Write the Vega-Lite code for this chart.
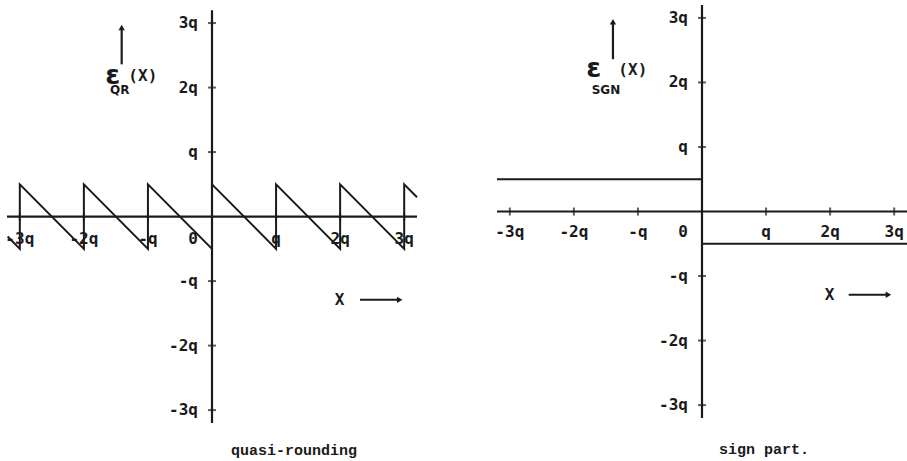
{
  "$schema": "https://vega.github.io/schema/vega-lite/v6.json",
  "padding": {"left": 3, "top": 3, "right": 0, "bottom": 0},
  "background": "white",
  "config": {
    "view": {"stroke": null},
    "concat": {"spacing": 80},
    "text": {"font": "DejaVu Sans Mono", "fontWeight": "bold", "fontSize": 16, "color": "#1a1a1a"},
    "rule": {"color": "#1a1a1a", "strokeWidth": 2.2},
    "line": {"color": "#1a1a1a", "strokeWidth": 2},
    "tick": {"color": "#1a1a1a", "thickness": 2}
  },
  "datasets": {
    "quasiRounding": [
      {"i": 0, "x": -3.19, "e": -0.31},
      {"i": 1, "x": -3, "e": -0.5},
      {"i": 2, "x": -3, "e": 0.5},
      {"i": 3, "x": -2, "e": -0.5},
      {"i": 4, "x": -2, "e": 0.5},
      {"i": 5, "x": -1, "e": -0.5},
      {"i": 6, "x": -1, "e": 0.5},
      {"i": 7, "x": 0, "e": -0.5},
      {"i": 8, "x": 0, "e": 0.5},
      {"i": 9, "x": 1, "e": -0.5},
      {"i": 10, "x": 1, "e": 0.5},
      {"i": 11, "x": 2, "e": -0.5},
      {"i": 12, "x": 2, "e": 0.5},
      {"i": 13, "x": 3, "e": -0.5},
      {"i": 14, "x": 3, "e": 0.5},
      {"i": 15, "x": 3.2, "e": 0.3}
    ],
    "signPart": [
      {"i": 0, "x": -3.2, "e": 0.5},
      {"i": 1, "x": 0, "e": 0.5},
      {"i": 2, "x": 0, "e": -0.5},
      {"i": 3, "x": 3.2, "e": -0.5}
    ],
    "ticks": [
      {"v": -3, "label": "-3q"},
      {"v": -2, "label": "-2q"},
      {"v": -1, "label": "-q"},
      {"v": 0, "label": "0"},
      {"v": 1, "label": "q"},
      {"v": 2, "label": "2q"},
      {"v": 3, "label": "3q"}
    ],
    "single": [{}]
  },
  "bounds": "flush",
  "hconcat": [
    {
      "width": 410,
      "height": 418,
      "title": {"text": "quasi-rounding", "orient": "bottom", "anchor": "middle", "dx": 82, "offset": 31, "baseline": "alphabetic", "font": "Liberation Mono", "fontSize": 15, "fontWeight": "bold", "color": "#1a1a1a"},
      "layer": [
        {"data": {"name": "single"}, "mark": "rule", "encoding": {
          "x": {"datum": -3.2, "type": "quantitative", "scale": {"domain": [-3.2, 3.2], "nice": false, "zero": false}, "axis": null},
          "x2": {"datum": 3.2},
          "y": {"datum": 0, "type": "quantitative", "scale": {"domain": [-3.2, 3.28], "nice": false, "zero": false}, "axis": null}}},
        {"data": {"name": "single"}, "mark": "rule", "encoding": {
          "x": {"datum": 0, "type": "quantitative", "scale": {"domain": [-3.2, 3.2], "nice": false, "zero": false}, "axis": null},
          "y": {"datum": -3.2, "type": "quantitative", "scale": {"domain": [-3.2, 3.28], "nice": false, "zero": false}, "axis": null},
          "y2": {"datum": 3.2}}},
        {"data": {"name": "ticks"}, "transform": [{"filter": "datum.v != 0"}],
          "mark": {"type": "tick", "orient": "vertical", "size": 8},
          "encoding": {
            "x": {"field": "v", "type": "quantitative", "scale": {"domain": [-3.2, 3.2], "nice": false, "zero": false}, "axis": null},
            "y": {"datum": 0, "type": "quantitative", "scale": {"domain": [-3.2, 3.28], "nice": false, "zero": false}, "axis": null}}},
        {"data": {"name": "ticks"}, "transform": [{"filter": "datum.v != 0"}],
          "mark": {"type": "tick", "orient": "horizontal", "size": 8},
          "encoding": {
            "y": {"field": "v", "type": "quantitative", "scale": {"domain": [-3.2, 3.28], "nice": false, "zero": false}, "axis": null},
            "x": {"datum": 0, "type": "quantitative", "scale": {"domain": [-3.2, 3.2], "nice": false, "zero": false}, "axis": null}}},
        {"data": {"name": "ticks"}, "transform": [{"filter": "datum.v != 0"}],
          "mark": {"type": "text", "align": "center", "baseline": "middle", "dy": 22},
          "encoding": {
            "x": {"field": "v", "type": "quantitative", "scale": {"domain": [-3.2, 3.2], "nice": false, "zero": false}, "axis": null},
            "y": {"datum": 0, "type": "quantitative", "scale": {"domain": [-3.2, 3.28], "nice": false, "zero": false}, "axis": null},
            "text": {"field": "label"}}},
        {"data": {"name": "ticks"}, "transform": [{"filter": "datum.v == 0"}],
          "mark": {"type": "text", "align": "center", "baseline": "middle", "dx": -19, "dy": 22},
          "encoding": {
            "x": {"field": "v", "type": "quantitative", "scale": {"domain": [-3.2, 3.2], "nice": false, "zero": false}, "axis": null},
            "y": {"datum": 0, "type": "quantitative", "scale": {"domain": [-3.2, 3.28], "nice": false, "zero": false}, "axis": null},
            "text": {"field": "label"}}},
        {"data": {"name": "ticks"}, "transform": [{"filter": "datum.v != 0"}],
          "mark": {"type": "text", "align": "right", "baseline": "middle", "dx": -14},
          "encoding": {
            "y": {"field": "v", "type": "quantitative", "scale": {"domain": [-3.2, 3.28], "nice": false, "zero": false}, "axis": null},
            "x": {"datum": 0, "type": "quantitative", "scale": {"domain": [-3.2, 3.2], "nice": false, "zero": false}, "axis": null},
            "text": {"field": "label"}}},
        {"data": {"name": "quasiRounding"}, "mark": "line",
          "encoding": {
            "x": {"field": "x", "type": "quantitative", "scale": {"domain": [-3.2, 3.2], "nice": false, "zero": false}, "axis": null},
            "y": {"field": "e", "type": "quantitative", "scale": {"domain": [-3.2, 3.28], "nice": false, "zero": false}, "axis": null},
            "order": {"field": "i", "type": "quantitative"}}},
        {"data": {"name": "single"}, "mark": "rule", "encoding": {
          "x": {"datum": -1.41, "type": "quantitative", "scale": {"domain": [-3.2, 3.2], "nice": false, "zero": false}, "axis": null},
          "y": {"datum": 2.36, "type": "quantitative", "scale": {"domain": [-3.2, 3.28], "nice": false, "zero": false}, "axis": null},
          "y2": {"datum": 2.93}}},
        {"data": {"name": "single"}, "mark": {"type": "point", "shape": "triangle-up", "filled": true, "size": 40, "color": "#1a1a1a", "opacity": 1},
          "encoding": {
            "x": {"datum": -1.41, "type": "quantitative", "scale": {"domain": [-3.2, 3.2], "nice": false, "zero": false}, "axis": null},
            "y": {"datum": 2.93, "type": "quantitative", "scale": {"domain": [-3.2, 3.28], "nice": false, "zero": false}, "axis": null}}},
        {"data": {"name": "single"}, "mark": {"type": "text", "fontSize": 27, "fontWeight": "bold", "font": "DejaVu Sans", "align": "center", "baseline": "alphabetic", "text": "ε"},
          "encoding": {
            "x": {"datum": -1.55, "type": "quantitative", "scale": {"domain": [-3.2, 3.2], "nice": false, "zero": false}, "axis": null},
            "y": {"datum": 2.05, "type": "quantitative", "scale": {"domain": [-3.2, 3.28], "nice": false, "zero": false}, "axis": null}}},
        {"data": {"name": "single"}, "mark": {"type": "text", "fontSize": 16, "align": "center", "baseline": "middle", "text": "(X)"},
          "encoding": {
            "x": {"datum": -1.08, "type": "quantitative", "scale": {"domain": [-3.2, 3.2], "nice": false, "zero": false}, "axis": null},
            "y": {"datum": 2.18, "type": "quantitative", "scale": {"domain": [-3.2, 3.28], "nice": false, "zero": false}, "axis": null}}},
        {"data": {"name": "single"}, "mark": {"type": "text", "fontSize": 12, "font": "DejaVu Sans", "align": "center", "baseline": "middle", "text": "QR"},
          "encoding": {
            "x": {"datum": -1.44, "type": "quantitative", "scale": {"domain": [-3.2, 3.2], "nice": false, "zero": false}, "axis": null},
            "y": {"datum": 1.97, "type": "quantitative", "scale": {"domain": [-3.2, 3.28], "nice": false, "zero": false}, "axis": null}}},
        {"data": {"name": "single"}, "mark": {"type": "text", "fontSize": 16, "align": "center", "baseline": "middle", "text": "X"},
          "encoding": {
            "x": {"datum": 1.99, "type": "quantitative", "scale": {"domain": [-3.2, 3.2], "nice": false, "zero": false}, "axis": null},
            "y": {"datum": -1.29, "type": "quantitative", "scale": {"domain": [-3.2, 3.28], "nice": false, "zero": false}, "axis": null}}},
        {"data": {"name": "single"}, "mark": {"type": "rule", "strokeWidth": 2},
          "encoding": {
            "x": {"datum": 2.31, "type": "quantitative", "scale": {"domain": [-3.2, 3.2], "nice": false, "zero": false}, "axis": null},
            "x2": {"datum": 2.93},
            "y": {"datum": -1.29, "type": "quantitative", "scale": {"domain": [-3.2, 3.28], "nice": false, "zero": false}, "axis": null}}},
        {"data": {"name": "single"}, "mark": {"type": "point", "shape": "triangle-right", "filled": true, "size": 40, "color": "#1a1a1a", "opacity": 1},
          "encoding": {
            "x": {"datum": 2.93, "type": "quantitative", "scale": {"domain": [-3.2, 3.2], "nice": false, "zero": false}, "axis": null},
            "y": {"datum": -1.29, "type": "quantitative", "scale": {"domain": [-3.2, 3.28], "nice": false, "zero": false}, "axis": null}}}
      ]
    },
    {
      "width": 410,
      "height": 413,
      "title": {"text": "sign part.", "orient": "bottom", "anchor": "middle", "dx": 62, "offset": 35, "baseline": "alphabetic", "font": "Liberation Mono", "fontSize": 15, "fontWeight": "bold", "color": "#1a1a1a"},
      "layer": [
        {"data": {"name": "single"}, "mark": "rule", "encoding": {
          "x": {"datum": -3.2, "type": "quantitative", "scale": {"domain": [-3.2, 3.2], "nice": false, "zero": false}, "axis": null},
          "x2": {"datum": 3.2},
          "y": {"datum": 0, "type": "quantitative", "scale": {"domain": [-3.2, 3.2], "nice": false, "zero": false}, "axis": null}}},
        {"data": {"name": "single"}, "mark": "rule", "encoding": {
          "x": {"datum": 0, "type": "quantitative", "scale": {"domain": [-3.2, 3.2], "nice": false, "zero": false}, "axis": null},
          "y": {"datum": -3.2, "type": "quantitative", "scale": {"domain": [-3.2, 3.2], "nice": false, "zero": false}, "axis": null},
          "y2": {"datum": 3.2}}},
        {"data": {"name": "ticks"}, "transform": [{"filter": "datum.v != 0"}],
          "mark": {"type": "tick", "orient": "vertical", "size": 8},
          "encoding": {
            "x": {"field": "v", "type": "quantitative", "scale": {"domain": [-3.2, 3.2], "nice": false, "zero": false}, "axis": null},
            "y": {"datum": 0, "type": "quantitative", "scale": {"domain": [-3.2, 3.2], "nice": false, "zero": false}, "axis": null}}},
        {"data": {"name": "ticks"}, "transform": [{"filter": "datum.v != 0"}],
          "mark": {"type": "tick", "orient": "horizontal", "size": 8},
          "encoding": {
            "y": {"field": "v", "type": "quantitative", "scale": {"domain": [-3.2, 3.2], "nice": false, "zero": false}, "axis": null},
            "x": {"datum": 0, "type": "quantitative", "scale": {"domain": [-3.2, 3.2], "nice": false, "zero": false}, "axis": null}}},
        {"data": {"name": "ticks"}, "transform": [{"filter": "datum.v != 0"}],
          "mark": {"type": "text", "align": "center", "baseline": "middle", "dy": 20},
          "encoding": {
            "x": {"field": "v", "type": "quantitative", "scale": {"domain": [-3.2, 3.2], "nice": false, "zero": false}, "axis": null},
            "y": {"datum": 0, "type": "quantitative", "scale": {"domain": [-3.2, 3.2], "nice": false, "zero": false}, "axis": null},
            "text": {"field": "label"}}},
        {"data": {"name": "ticks"}, "transform": [{"filter": "datum.v == 0"}],
          "mark": {"type": "text", "align": "center", "baseline": "middle", "dx": -19, "dy": 20},
          "encoding": {
            "x": {"field": "v", "type": "quantitative", "scale": {"domain": [-3.2, 3.2], "nice": false, "zero": false}, "axis": null},
            "y": {"datum": 0, "type": "quantitative", "scale": {"domain": [-3.2, 3.2], "nice": false, "zero": false}, "axis": null},
            "text": {"field": "label"}}},
        {"data": {"name": "ticks"}, "transform": [{"filter": "datum.v != 0"}],
          "mark": {"type": "text", "align": "right", "baseline": "middle", "dx": -14},
          "encoding": {
            "y": {"field": "v", "type": "quantitative", "scale": {"domain": [-3.2, 3.2], "nice": false, "zero": false}, "axis": null},
            "x": {"datum": 0, "type": "quantitative", "scale": {"domain": [-3.2, 3.2], "nice": false, "zero": false}, "axis": null},
            "text": {"field": "label"}}},
        {"data": {"name": "signPart"}, "mark": "line",
          "encoding": {
            "x": {"field": "x", "type": "quantitative", "scale": {"domain": [-3.2, 3.2], "nice": false, "zero": false}, "axis": null},
            "y": {"field": "e", "type": "quantitative", "scale": {"domain": [-3.2, 3.2], "nice": false, "zero": false}, "axis": null},
            "order": {"field": "i", "type": "quantitative"}}},
        {"data": {"name": "single"}, "mark": "rule", "encoding": {
          "x": {"datum": -1.39, "type": "quantitative", "scale": {"domain": [-3.2, 3.2], "nice": false, "zero": false}, "axis": null},
          "y": {"datum": 2.36, "type": "quantitative", "scale": {"domain": [-3.2, 3.2], "nice": false, "zero": false}, "axis": null},
          "y2": {"datum": 2.94}}},
        {"data": {"name": "single"}, "mark": {"type": "point", "shape": "triangle-up", "filled": true, "size": 40, "color": "#1a1a1a", "opacity": 1},
          "encoding": {
            "x": {"datum": -1.39, "type": "quantitative", "scale": {"domain": [-3.2, 3.2], "nice": false, "zero": false}, "axis": null},
            "y": {"datum": 2.94, "type": "quantitative", "scale": {"domain": [-3.2, 3.2], "nice": false, "zero": false}, "axis": null}}},
        {"data": {"name": "single"}, "mark": {"type": "text", "fontSize": 27, "fontWeight": "bold", "font": "DejaVu Sans", "align": "center", "baseline": "alphabetic", "text": "ε"},
          "encoding": {
            "x": {"datum": -1.69, "type": "quantitative", "scale": {"domain": [-3.2, 3.2], "nice": false, "zero": false}, "axis": null},
            "y": {"datum": 2.08, "type": "quantitative", "scale": {"domain": [-3.2, 3.2], "nice": false, "zero": false}, "axis": null}}},
        {"data": {"name": "single"}, "mark": {"type": "text", "fontSize": 16, "align": "center", "baseline": "middle", "text": "(X)"},
          "encoding": {
            "x": {"datum": -1.08, "type": "quantitative", "scale": {"domain": [-3.2, 3.2], "nice": false, "zero": false}, "axis": null},
            "y": {"datum": 2.19, "type": "quantitative", "scale": {"domain": [-3.2, 3.2], "nice": false, "zero": false}, "axis": null}}},
        {"data": {"name": "single"}, "mark": {"type": "text", "fontSize": 12, "font": "DejaVu Sans", "align": "center", "baseline": "middle", "text": "SGN"},
          "encoding": {
            "x": {"datum": -1.5, "type": "quantitative", "scale": {"domain": [-3.2, 3.2], "nice": false, "zero": false}, "axis": null},
            "y": {"datum": 1.89, "type": "quantitative", "scale": {"domain": [-3.2, 3.2], "nice": false, "zero": false}, "axis": null}}},
        {"data": {"name": "single"}, "mark": {"type": "text", "fontSize": 16, "align": "center", "baseline": "middle", "text": "X"},
          "encoding": {
            "x": {"datum": 1.99, "type": "quantitative", "scale": {"domain": [-3.2, 3.2], "nice": false, "zero": false}, "axis": null},
            "y": {"datum": -1.29, "type": "quantitative", "scale": {"domain": [-3.2, 3.2], "nice": false, "zero": false}, "axis": null}}},
        {"data": {"name": "single"}, "mark": {"type": "rule", "strokeWidth": 2},
          "encoding": {
            "x": {"datum": 2.29, "type": "quantitative", "scale": {"domain": [-3.2, 3.2], "nice": false, "zero": false}, "axis": null},
            "x2": {"datum": 2.91},
            "y": {"datum": -1.29, "type": "quantitative", "scale": {"domain": [-3.2, 3.2], "nice": false, "zero": false}, "axis": null}}},
        {"data": {"name": "single"}, "mark": {"type": "point", "shape": "triangle-right", "filled": true, "size": 40, "color": "#1a1a1a", "opacity": 1},
          "encoding": {
            "x": {"datum": 2.91, "type": "quantitative", "scale": {"domain": [-3.2, 3.2], "nice": false, "zero": false}, "axis": null},
            "y": {"datum": -1.29, "type": "quantitative", "scale": {"domain": [-3.2, 3.2], "nice": false, "zero": false}, "axis": null}}}
      ]
    }
  ]
}
